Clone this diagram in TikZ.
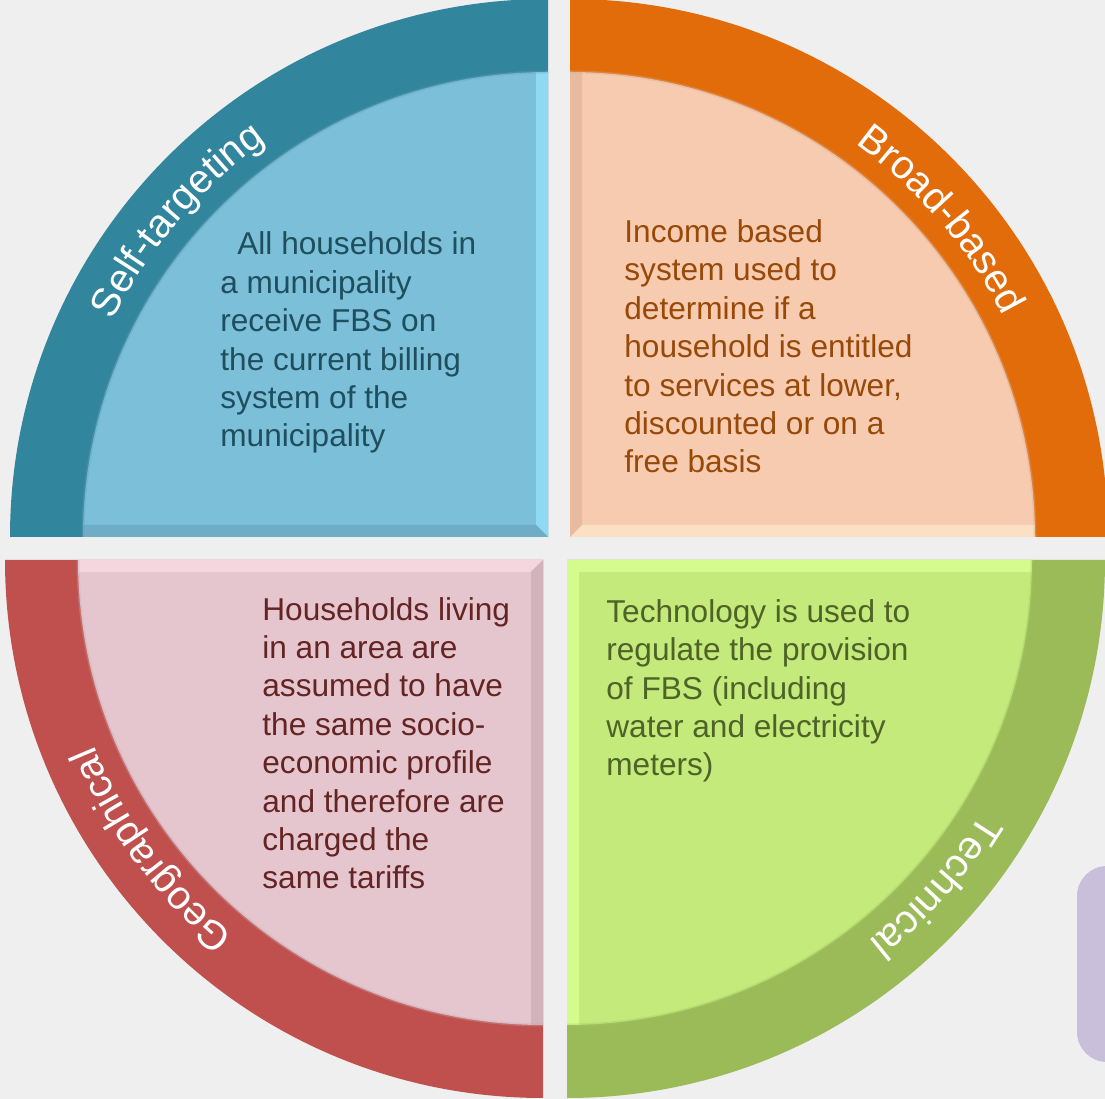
\documentclass[tikz,border=0pt]{standalone}
\usepackage{fontspec}
\setmainfont{Liberation Sans}
\usetikzlibrary{decorations.text}
\definecolor{pagebg}{HTML}{EFEFF0}
\definecolor{lilac}{HTML}{C9BFDB}
\definecolor{tealband}{HTML}{31859C}
\definecolor{bluefill}{HTML}{7BBFD8}
\definecolor{bluelight}{HTML}{8FD9F3}
\definecolor{bluedark}{HTML}{6EADC5}
\definecolor{bluetext}{HTML}{1F4F5E}
\definecolor{orangeband}{HTML}{E36C0A}
\definecolor{peachfill}{HTML}{F6CBB0}
\definecolor{peachlight}{HTML}{FBE0C4}
\definecolor{peachdark}{HTML}{E8BA9E}
\definecolor{orangetext}{HTML}{984807}
\definecolor{redband}{HTML}{C0504D}
\definecolor{pinkfill}{HTML}{E6C6CE}
\definecolor{pinklight}{HTML}{F4D7DE}
\definecolor{pinkdark}{HTML}{D3B3BB}
\definecolor{redtext}{HTML}{632423}
\definecolor{greenband}{HTML}{9BBB59}
\definecolor{limefill}{HTML}{C3EA7A}
\definecolor{limelight}{HTML}{D5FB8E}
\definecolor{greentext}{HTML}{4F6228}
\newcommand\bandfont{\fontsize{20}{24}\selectfont}
\begin{document}
\begin{tikzpicture}[x=0.5pt, y=0.5pt,
        quadtext/.style={anchor=base west, inner sep=0pt, align=left,
            font=\fontsize{15.8}{19.2}\selectfont},
        bandlabel/.style={decorate, decoration={text along path,
            text align=center, text color=white}}]
    \useasboundingbox (0,0) rectangle (1105,1099);
    \clip (0,0) rectangle (1105,1099);
    \fill[pagebg] (0,0) rectangle (1105,1099);
    % box cut off at the right edge
    \fill[lilac, rounded corners=15pt] (1077,37) rectangle (1170,233);

    \coordinate (tl) at (548,562);
    \coordinate (tr) at (570,562);
    \coordinate (bl) at (543,539);
    \coordinate (br) at (567,539);

    % quarter rings: corner / turn / ring / face / bevel on x edge / bevel on y edge
    \foreach \corner/\turn/\ring/\face/\xbevel/\ybevel in
        {tl/90/tealband/bluefill/bluelight/bluedark,
         tr/0/orangeband/peachfill/peachlight/peachdark,
         bl/180/redband/pinkfill/pinklight/pinkdark,
         br/270/greenband/limefill/limelight/limelight} {
        \begin{scope}[shift={(\corner)}, rotate=\turn]
            \fill[\ring] (0,0) -- (538,0) arc (0:90:538) -- cycle;
            \fill[\face] (0,0) -- (465,0) arc (0:90:465) -- cycle;
            \begin{scope}
                \clip (0,0) -- (465,0) arc (0:90:465) -- cycle;
                \fill[\xbevel] (0,0) -- (470,0) -- (470,12) -- (12,12) -- cycle;
                \fill[\ybevel] (0,0) -- (0,470) -- (12,470) -- (12,12) -- cycle;
            \end{scope}
            \draw[\face!85!black, opacity=0.35, line width=1.5pt] (465,0) arc (0:90:465);
        \end{scope}
    }

    % labels on the rings
    \path[bandlabel, decoration={text={|\bandfont|Self-targeting}}]
        ([shift={(165:486)}]tl) arc (165:114:486);
    \path[bandlabel, decoration={text={|\bandfont|Broad-based}}]
        ([shift={(66:486)}]tr) arc (66:15:486);
    \path[bandlabel, decoration={text={|\bandfont|Geographical}}]
        ([shift={(242:486)}]bl) arc (242:191:486);
    \path[bandlabel, decoration={text={|\bandfont|Technical}}]
        ([shift={(-16:486)}]br) arc (-16:-67:486);

    % texts (anchored at the baseline of the last line)
    \node[quadtext, text=bluetext] (selftext) at (220,652)
        {\hspace*{8.5pt}All households in\\a municipality\\receive FBS on\\the current billing\\system of the\\municipality};
    \node[quadtext, text=orangetext] (broadtext) at (624,626)
        {Income based\\system used to\\determine if a\\household is entitled\\to services at lower,\\discounted or on a\\free basis};
    \node[quadtext, text=redtext] (geotext) at (262,210)
        {Households living\\in an area are\\assumed to have\\the same socio-\\economic profile\\and therefore are\\charged the\\same tariffs};
    \node[quadtext, text=greentext] (techtext) at (606,323)
        {Technology is used to\\regulate the provision\\of FBS (including\\water and electricity\\meters)};
\end{tikzpicture}
\end{document}
